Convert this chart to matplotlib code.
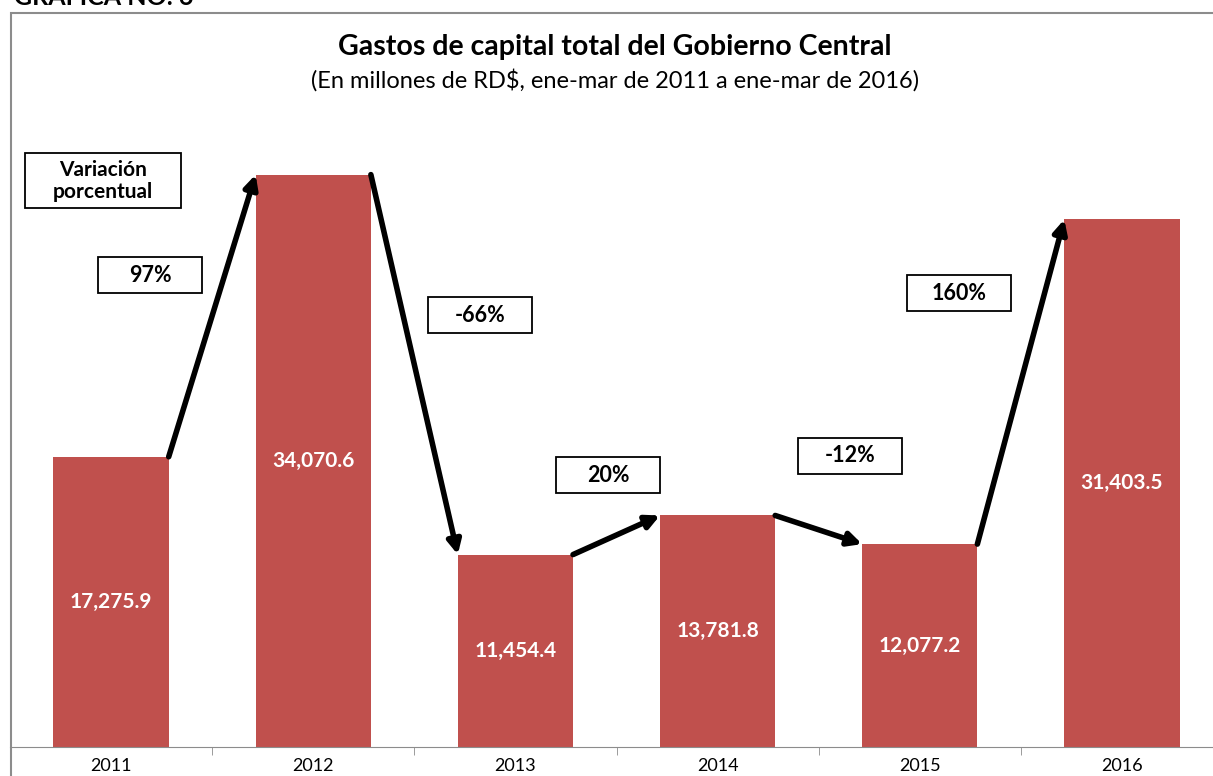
import numpy as np
import matplotlib
matplotlib.use('Agg')
import matplotlib.pyplot as plt
from matplotlib.patches import Rectangle

plt.rcParams['font.family'] = ['Lato', 'DejaVu Sans']

# datos
years = ['2011', '2012', '2013', '2014', '2015', '2016']
gastos = [17275.9, 34070.6, 11454.4, 13781.8, 12077.2, 31403.5]
var_labels = ['97%', '-66%', '20%', '-12%', '160%']

W, H = 1213, 776
fig = plt.figure(figsize=(W / 100, H / 100), dpi=100)

def fx(px):
    return px / W

def fy(py):
    return 1 - py / H

# marco de la gráfica
fig.add_artist(Rectangle((fx(11), fy(H + 20)), fx(W + 20), fy(13) - fy(H + 20),
                         transform=fig.transFigure, fill=False, edgecolor='#8c8c8c', lw=1.5))
fig.text(fx(14), fy(5), 'GRÁFICA NO. 6', fontsize=18, fontweight='bold', ha='left', va='baseline')

# ejes
ax = fig.add_axes([fx(10), fy(747), fx(1213), fy(75) - fy(747)])
x = np.arange(len(years))
w = 0.57
bars = ax.bar(x, gastos, width=w, color='#c0504d')
ax.set_xlim(-0.5, len(years) - 0.5)
ax.set_ylim(0, 40000)
ax.bar_label(bars, labels=[f'{v:,.1f}' for v in gastos], label_type='center',
             color='white', fontsize=15, fontweight='bold')

for s in ['top', 'right', 'left']:
    ax.spines[s].set_visible(False)
ax.spines['bottom'].set_color('#8c8c8c')
ax.set_yticks([])
ax.set_xticks(x)
ax.set_xticklabels(years, fontsize=13)
ax.tick_params(axis='x', length=0, pad=8)
ax.set_xticks(np.arange(len(years) + 1) - 0.5, minor=True)
ax.tick_params(axis='x', which='minor', length=6, color='#8c8c8c')
ax.set_facecolor('none')

# flechas entre barras
for i in range(len(years) - 1):
    ax.annotate('', xy=(i + 1 - w / 2, gastos[i + 1]), xytext=(i + w / 2, gastos[i]),
                arrowprops=dict(arrowstyle='-|>,head_length=0.8,head_width=0.4',
                                color='black', lw=4, shrinkA=0, shrinkB=0))

# cajas de variación porcentual (centros en pixeles)
box_centers = [(150, 275), (480, 315), (608, 475), (850, 456), (959, 293)]
bw, bh = 104, 36
for (cx, cy), lab in zip(box_centers, var_labels):
    fig.add_artist(Rectangle((fx(cx - bw / 2), fy(cy + bh / 2)), fx(bw), fy(cy - bh / 2) - fy(cy + bh / 2),
                             transform=fig.transFigure, facecolor='white', edgecolor='black', lw=1.3))
    fig.text(fx(cx), fy(cy), lab, fontsize=15.5, fontweight='bold', ha='center', va='center')

fig.add_artist(Rectangle((fx(25), fy(208)), fx(156), fy(153) - fy(208),
                         transform=fig.transFigure, facecolor='white', edgecolor='black', lw=1.3))
fig.text(fx(103), fy(181), 'Variación\nporcentual', fontsize=15, fontweight='bold',
         ha='center', va='center', linespacing=1.15)

# títulos
fig.text(fx(615), fy(47), 'Gastos de capital total del Gobierno Central', fontsize=20.5,
         fontweight='bold', ha='center', va='center')
fig.text(fx(615), fy(80), '(En millones de RD$, ene-mar de 2011 a ene-mar de 2016)', fontsize=17,
         ha='center', va='center')

fig.savefig('out.png', dpi=100)
